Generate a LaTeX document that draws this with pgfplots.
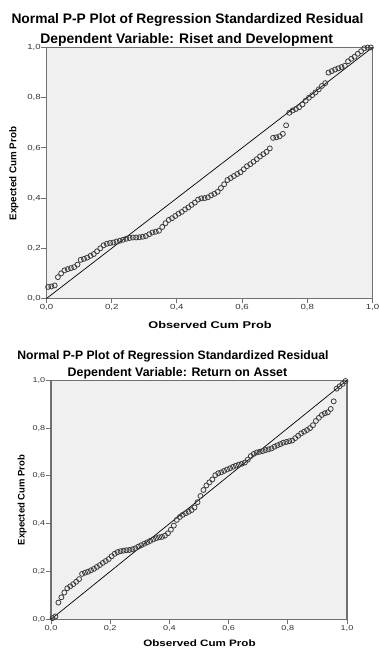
\documentclass[border=0pt]{standalone}
\usepackage{fontspec}
\setmainfont{Liberation Sans}
\usepackage{graphicx}
\usepackage{pgfplots}
\pgfplotsset{compat=1.18}
\definecolor{bgc}{HTML}{F0F0F0}
\definecolor{framec}{HTML}{707070}
\definecolor{markc}{HTML}{3C3C3C}
\definecolor{tickc}{HTML}{333333}

\pgfplotstableread{
x y
0.005 0.046
0.015 0.048
0.025 0.052
0.035 0.085
0.045 0.100
0.055 0.112
0.065 0.117
0.075 0.121
0.085 0.125
0.095 0.135
0.105 0.154
0.115 0.158
0.125 0.163
0.135 0.170
0.145 0.177
0.155 0.188
0.165 0.200
0.175 0.212
0.185 0.218
0.195 0.221
0.205 0.223
0.215 0.227
0.225 0.230
0.235 0.234
0.245 0.238
0.255 0.241
0.265 0.243
0.275 0.243
0.285 0.244
0.295 0.246
0.305 0.249
0.315 0.256
0.325 0.263
0.335 0.266
0.345 0.270
0.355 0.285
0.365 0.300
0.375 0.313
0.385 0.320
0.395 0.329
0.405 0.338
0.415 0.345
0.425 0.355
0.435 0.363
0.445 0.373
0.455 0.382
0.465 0.394
0.475 0.399
0.485 0.400
0.495 0.403
0.505 0.411
0.515 0.417
0.525 0.425
0.535 0.440
0.545 0.455
0.555 0.472
0.565 0.480
0.575 0.488
0.585 0.496
0.595 0.503
0.605 0.515
0.615 0.527
0.625 0.535
0.635 0.545
0.645 0.555
0.655 0.566
0.665 0.575
0.675 0.584
0.685 0.598
0.695 0.640
0.705 0.642
0.715 0.646
0.725 0.656
0.735 0.690
0.745 0.740
0.755 0.749
0.765 0.755
0.775 0.762
0.785 0.773
0.795 0.788
0.805 0.800
0.815 0.810
0.825 0.821
0.835 0.833
0.845 0.847
0.855 0.858
0.865 0.900
0.875 0.906
0.885 0.912
0.895 0.917
0.905 0.922
0.915 0.927
0.925 0.945
0.935 0.955
0.945 0.963
0.955 0.975
0.965 0.985
0.975 0.997
0.985 1.000
0.995 1.000
}\rnd

\pgfplotstableread{
x y
0.005 0.005
0.015 0.012
0.025 0.070
0.035 0.092
0.045 0.112
0.055 0.130
0.065 0.138
0.075 0.147
0.085 0.157
0.095 0.168
0.105 0.190
0.115 0.195
0.125 0.199
0.135 0.205
0.145 0.211
0.155 0.219
0.165 0.227
0.175 0.236
0.185 0.244
0.195 0.252
0.205 0.264
0.215 0.274
0.225 0.281
0.235 0.285
0.245 0.287
0.255 0.289
0.265 0.290
0.275 0.293
0.285 0.297
0.295 0.304
0.305 0.310
0.315 0.316
0.325 0.322
0.335 0.328
0.345 0.334
0.355 0.339
0.365 0.343
0.375 0.345
0.385 0.350
0.395 0.360
0.405 0.375
0.415 0.392
0.425 0.416
0.435 0.428
0.445 0.437
0.455 0.444
0.465 0.450
0.475 0.457
0.485 0.468
0.495 0.490
0.505 0.516
0.515 0.541
0.525 0.560
0.535 0.573
0.545 0.585
0.555 0.603
0.565 0.611
0.575 0.615
0.585 0.621
0.595 0.627
0.605 0.632
0.615 0.638
0.625 0.643
0.635 0.647
0.645 0.651
0.655 0.656
0.665 0.668
0.675 0.683
0.685 0.692
0.695 0.698
0.705 0.701
0.715 0.704
0.725 0.708
0.735 0.711
0.745 0.715
0.755 0.722
0.765 0.728
0.775 0.733
0.785 0.739
0.795 0.742
0.805 0.745
0.815 0.748
0.825 0.758
0.835 0.768
0.845 0.778
0.855 0.785
0.865 0.792
0.875 0.800
0.885 0.812
0.895 0.830
0.905 0.843
0.915 0.855
0.925 0.862
0.935 0.866
0.945 0.880
0.955 0.912
0.965 0.965
0.975 0.975
0.985 0.985
0.995 0.997
}\roa

\pgfplotsset{
  pp/.style={
    scale only axis,
    xmin=0, xmax=1, ymin=0, ymax=1,
    axis background/.style={fill=bgc},
    axis line style={framec, line width=1.3pt},
    xtick={0,0.2,0.4,0.6,0.8,1},
    ytick={0,0.2,0.4,0.6,0.8,1},
    tick align=outside,
    xtick pos=bottom, ytick pos=left,
    major tick length=5pt,
    tick style={framec, line width=0.9pt},
    xticklabel style={inner sep=1pt, text=tickc},
    yticklabel style={inner sep=0.6pt, text=tickc},
    xticklabel={\scalebox{1.3}[1]{\pgfmathprintnumber[fixed,zerofill,precision=1,use comma,assume math mode=true]{\tick}}},
    yticklabel={\scalebox{1.3}[1]{\pgfmathprintnumber[fixed,zerofill,precision=1,use comma,assume math mode=true]{\tick}}},
    clip=false,
  },
  ppmarks/.style={only marks, mark=o, mark size=2.5pt,
    mark options={draw=markc, line width=0.8pt}},
}

\begin{document}
\begin{tikzpicture}
\fill[white] (0pt,0pt) rectangle (379pt,648pt);
\path[use as bounding box] (0pt,0pt) rectangle (379pt,648pt);

% ---------- top chart ----------
\node[anchor=base, font=\bfseries\fontsize{13.8}{16}\selectfont] at (187.5pt,624.7pt) {Normal P-P Plot of Regression Standardized Residual};
\node[anchor=base, font=\bfseries\fontsize{13.9}{16}\selectfont] at (186.7pt,604.7pt) {Dependent Variable: Riset and Development};
\begin{axis}[pp, at={(46.5pt,349.5pt)}, anchor=south west,
  width=326pt, height=251pt,
  ticklabel style={font=\fontsize{7.4}{8}\selectfont}]
\addplot[black, line width=0.7pt] coordinates {(0,0) (1,1)};
\addplot[ppmarks] table[x=x, y=y] {\rnd};
\end{axis}
\node[anchor=base, font=\bfseries\fontsize{9.8}{11}\selectfont] at (210pt,319pt) {\scalebox{1.3}[1]{Observed Cum Prob}};
\node[anchor=base, rotate=90, font=\bfseries\fontsize{9.8}{11}\selectfont] at (16.5pt,474.5pt) {Expected Cum Prob};

% ---------- bottom chart ----------
\node[anchor=base, font=\bfseries\fontsize{12.2}{14}\selectfont] at (173pt,288.7pt) {Normal P-P Plot of Regression Standardized Residual};
\node[anchor=base, font=\bfseries\fontsize{12.4}{14}\selectfont] at (177.5pt,271.3pt) {Dependent Variable: Return on Asset};
\begin{axis}[pp, at={(51pt,28.7pt)}, anchor=south west,
  width=296pt, height=239pt,
  ticklabel style={font=\fontsize{7}{8}\selectfont}]
\addplot[black, line width=0.7pt] coordinates {(0,0) (1,1)};
\addplot[ppmarks] table[x=x, y=y] {\roa};
\end{axis}
\node[anchor=base, font=\bfseries\fontsize{9.3}{11}\selectfont] at (199.5pt,1.5pt) {\scalebox{1.25}[1]{Observed Cum Prob}};
\node[anchor=base, rotate=90, font=\bfseries\fontsize{9.5}{11}\selectfont] at (24.5pt,148pt) {Expected Cum Prob};
\end{tikzpicture}
\end{document}
